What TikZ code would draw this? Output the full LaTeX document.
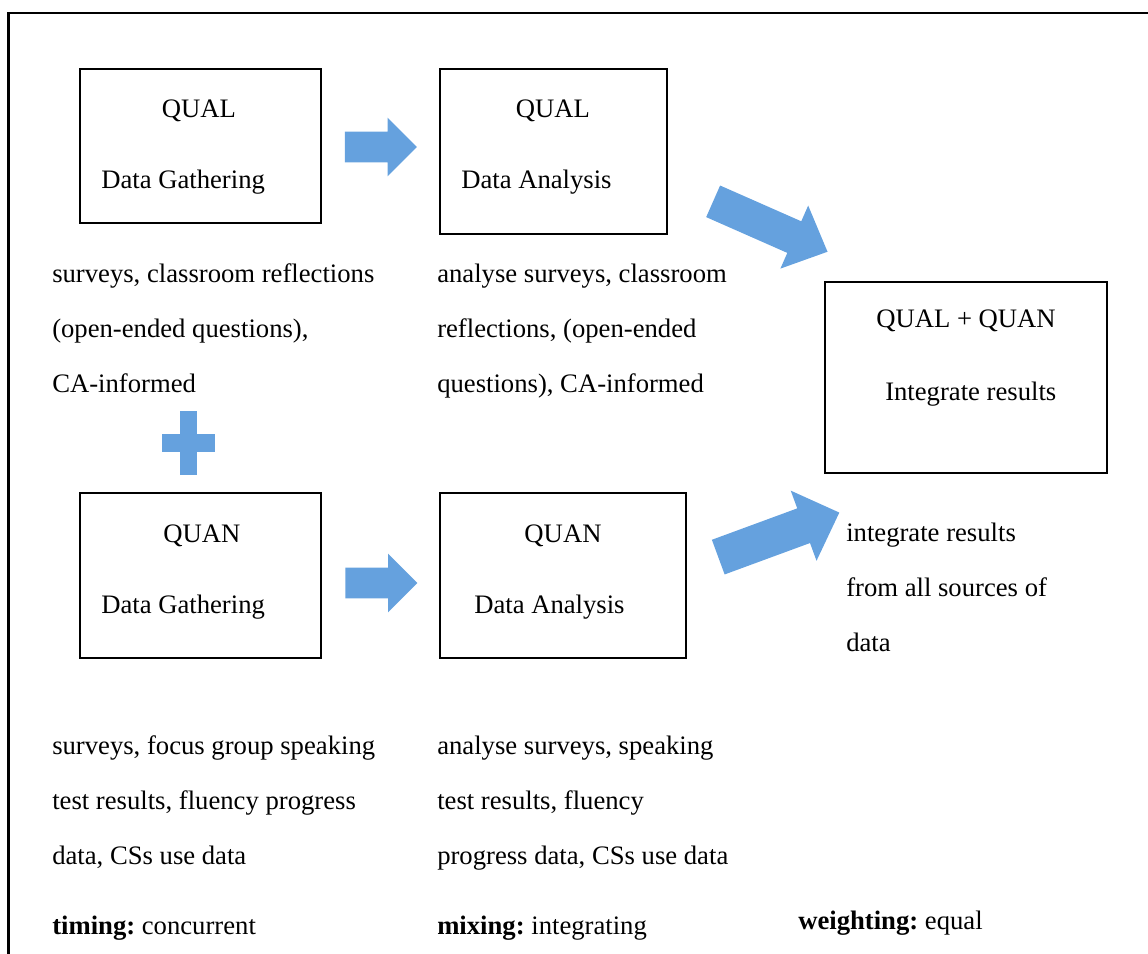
\documentclass[tikz,border=0pt]{standalone}
\usepackage{fontspec}
\setmainfont{Liberation Serif}
\usetikzlibrary{shapes.arrows}
\newlength\px
\setlength\px{0.75pt}
\definecolor{flowblue}{RGB}{101,161,222}
\frenchspacing

\begin{document}
\begin{tikzpicture}[
    x=\px, y=-\px,
    every node/.style = {font=\fontsize{20}{41.25}\selectfont, inner sep=0pt},
    box/.style      = {draw, line width=2\px},
    label/.style    = {anchor=base},
    notes/.style    = {anchor=base west, align=left},
    bigarrow/.style = {single arrow, fill=flowblue, draw=none, anchor=tail,
                       single arrow head indent=0pt}
]
    \clip (0,0) rectangle (1148,953);
    \draw[line width=2.2\px] (8.5,13) rectangle (1200,1000);

    % boxes
    \node[box, minimum width=241\px, minimum height=154\px] (qualgather) at (200.5,146) {};
    \node[box, minimum width=227\px, minimum height=165\px] (qualanalyse) at (553.5,151.5) {};
    \node[box, minimum width=282\px, minimum height=191\px] (integrate) at (966,377.5) {};
    \node[box, minimum width=241\px, minimum height=165\px] (quangather) at (200.5,575.5) {};
    \node[box, minimum width=246\px, minimum height=165\px] (quananalyse) at (563,575.5) {};

    \node[label] (qualgatherhead) at (199,117.5) {QUAL};
    \node[label, anchor=base west] (qualgathertext) at (101,188) {Data Gathering};
    \node[label] (qualanalysehead) at (553,117.5) {QUAL};
    \node[label, anchor=base west] (qualanalysetext) at (461,188) {Data Analysis};
    \node[label] (integratehead) at (966,327.5) {QUAL + QUAN};
    \node[label, anchor=base west] (integratetext) at (885,400) {Integrate results};
    \node[label] (quangatherhead) at (202,542) {QUAN};
    \node[label, anchor=base west] (quangathertext) at (101,613) {Data Gathering};
    \node[label] (quananalysehead) at (563,542) {QUAN};
    \node[label, anchor=base west] (quananalysetext) at (474,613) {Data Analysis};

    % block arrows
    \node[bigarrow, minimum height=72\px, inner ysep=15\px, single arrow head extend=14\px]
        (arrowqual) at (344.7,147) {};
    \node[bigarrow, minimum height=72\px, inner ysep=15\px, single arrow head extend=14\px]
        (arrowquan) at (345,583) {};
    \node[bigarrow, rotate=-23.8, minimum height=125\px, inner ysep=17\px,
          single arrow head extend=17.2\px, single arrow tip angle=87]
        (arrowqualmix) at (712.9,201.2) {};
    \node[bigarrow, rotate=20.2, minimum height=129\px, inner ysep=18.2\px,
          single arrow head extend=18.9\px, single arrow tip angle=89]
        (arrowquanmix) at (718,557.2) {};

    % plus sign
    \fill[flowblue] (180,411) rectangle (197,475);
    \fill[flowblue] (162.3,434.3) rectangle (215,451.7);

    % notes (anchored on the baseline of the last line)
    \node[notes] (qualgathernotes) at (52,392)
        {surveys, classroom reflections\\(open-ended questions),\\CA-informed};
    \node[notes] (qualanalysenotes) at (437,392)
        {analyse surveys, classroom\\reflections, (open-ended\\questions), CA-informed};
    \node[notes] (integratenotes) at (846,651)
        {integrate results\\from all sources of\\data};
    \node[notes] (quangathernotes) at (52,864)
        {surveys, focus group speaking\\test results, fluency progress\\data, CSs use data};
    \node[notes] (quananalysenotes) at (437,864)
        {analyse surveys, speaking\\test results, fluency\\progress data, CSs use data};

    \node[notes] (timing) at (52,934) {\textbf{timing:} concurrent};
    \node[notes] (mixing) at (437,934) {\textbf{mixing:} integrating};
    \node[notes] (weighting) at (798,929.3) {\textbf{weighting:} equal};
\end{tikzpicture}
\end{document}
